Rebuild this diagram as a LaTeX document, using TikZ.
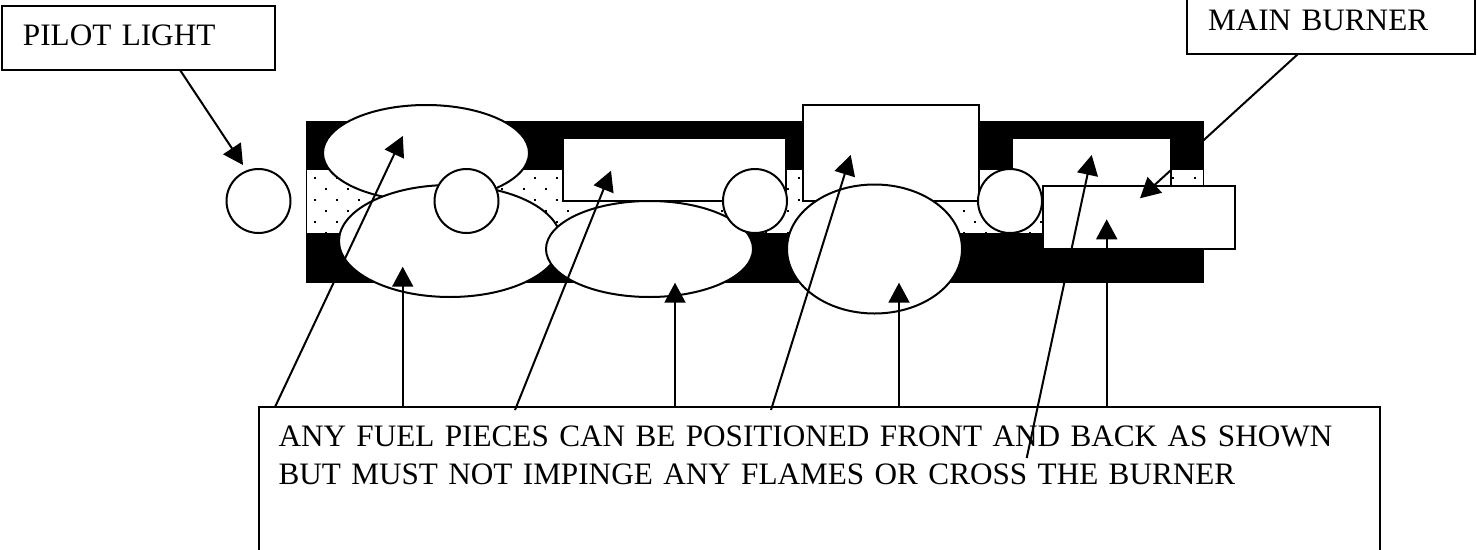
\documentclass[tikz,border=0pt]{standalone}
\usepackage{fontspec}
\setmainfont{Liberation Serif}
\usetikzlibrary{arrows.meta,shapes.geometric}
\tikzset{
  outline/.style={draw=black,fill=white,line width=2pt,inner sep=0pt,outer sep=0pt},
  piece/.style={outline,rectangle,anchor=north west},
  oval/.style={outline,ellipse},
  flame/.style={outline,circle,minimum size=64pt},
  label box/.style={outline,rectangle,anchor=north west,align=left,font=\fontsize{31.2}{38.4}\selectfont,inner ysep=0pt},
  pointer/.style={draw=black,line width=2pt,-{Triangle[length=20pt,width=21pt]}},
  dot/.style={fill=black}
}
\begin{document}
\begin{tikzpicture}[x=1pt,y=-1pt]
\useasboundingbox (0,0) rectangle (1477,549);
\clip (0,0) rectangle (1477,549);
\fill[white] (0,0) rectangle (1477,549);
% burner body
\fill[black] (306,120.5) rectangle (1204,282.5);
\fill[white] (307,170) rectangle (1203,232.8);
\begin{scope}
\clip (307,170) rectangle (1203,233.5);
\foreach \i in {0,...,40}{
  \foreach \j in {0,...,2}{
    \fill[dot] ({315+22*\i-1.3},{178+22*\j-1.3}) rectangle +(2.7,2.7);
    \fill[dot] ({326+22*\i-1.3},{189+22*\j-1.3}) rectangle +(2.7,2.7);
  }
}
\end{scope}
% fuel pieces
\node[piece,minimum width=223pt,minimum height=63pt] (r1) at (563,138) {};
\node[piece,minimum width=176pt,minimum height=96pt] (r2) at (803,105) {};
\node[piece,minimum width=159pt,minimum height=63pt] (r3) at (1012,138) {};
\node[oval,minimum width=206pt,minimum height=96pt] (e1) at (426,153) {};
\node[oval,minimum width=222pt,minimum height=112pt] (e2) at (450,241) {};
\node[oval,minimum width=207pt,minimum height=96pt] (e3) at (649.5,249) {};
\node[oval,minimum width=175pt,minimum height=129pt] (e4) at (874.5,249) {};
% flames
\node[flame] (c0) at (258.5,201) {};
\node[flame] (c1) at (466.5,201) {};
\node[flame] (c2) at (755,201) {};
\node[flame] (c3) at (1010,201) {};
\node[piece,minimum width=192pt,minimum height=63pt] (r4) at (1043,186) {};
% labels
\node[label box,inner xsep=21pt,text width=231pt,text height=39pt,text depth=25pt] (pilot) at (2,6) {PILOT LIGHT};
\node[label box,inner xsep=21pt,text width=246pt,text height=50pt,text depth=24pt] (main) at (1187,-20) {MAIN BURNER};
\node[label box,inner xsep=20pt,text width=1081pt,text height=39.5pt,text depth=160pt] (fuel) at (258.5,407) {ANY FUEL PIECES CAN BE POSITIONED FRONT AND BACK AS SHOWN\\BUT MUST NOT IMPINGE ANY FLAMES OR CROSS THE BURNER};
% connector ends
\coordinate (pilotout) at (180,70);
\coordinate (pilotin) at (243,165);
\coordinate (mainout) at (1298,54);
\coordinate (mainin) at (1140,198.3);
\coordinate (f1out) at (275,407);
\coordinate (f1in) at (402.8,136);
\coordinate (f2out) at (515,410);
\coordinate (f2in) at (611,170.7);
\coordinate (f3out) at (771,410);
\coordinate (f3in) at (850.7,155);
\coordinate (f4out) at (1026.7,458);
\coordinate (f4in) at (1091.7,155);
\coordinate (v1out) at (402.7,407);
\coordinate (v1in) at (402.7,266.7);
\coordinate (v2out) at (675,407);
\coordinate (v2in) at (675,282.7);
\coordinate (v3out) at (899,407);
\coordinate (v3in) at (899,282.7);
\coordinate (v4out) at (1106.7,407);
\coordinate (v4in) at (1106.7,219.3);
% connectors
\draw[pointer] (pilotout) -- (pilotin);
\draw[pointer] (mainout) -- (mainin);
\draw[pointer] (f1out) -- (f1in);
\draw[pointer] (f2out) -- (f2in);
\draw[pointer] (f3out) -- (f3in);
\draw[pointer] (f4out) -- (f4in);
\draw[pointer] (v1out) -- (v1in);
\draw[pointer] (v2out) -- (v2in);
\draw[pointer] (v3out) -- (v3in);
\draw[pointer] (v4out) -- (v4in);
\end{tikzpicture}
\end{document}
